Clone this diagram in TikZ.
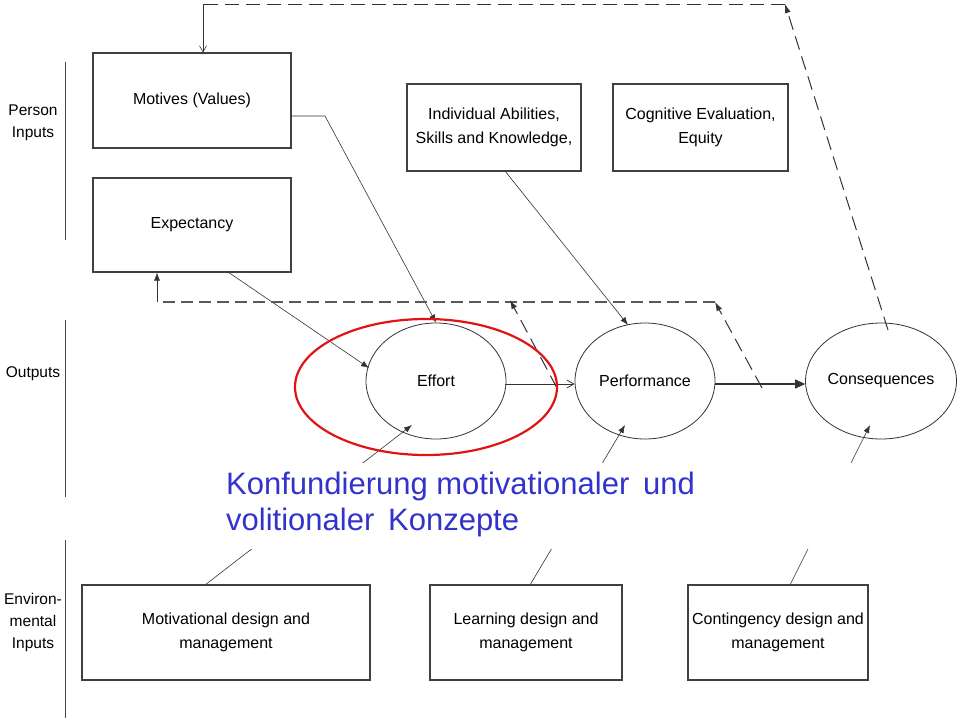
\documentclass[tikz,border=0pt]{standalone}
\usepackage{fontspec}
\setmainfont{Liberation Sans}
\usetikzlibrary{arrows.meta,shapes.geometric}
\definecolor{konf}{RGB}{50,50,205}
\begin{document}
\begin{tikzpicture}[x=1pt,y=-1pt,
  box/.style={draw=black!75,line width=1.2pt,inner sep=0pt,font=\fontsize{16}{24}\selectfont,align=center},
  oval/.style={draw=black!80,ellipse,line width=0.8pt,inner sep=0pt,font=\fontsize{16}{19}\selectfont},
  lab/.style={font=\fontsize{15.5}{22}\selectfont,align=center},
  conn/.style={draw=black!80,line width=0.6pt,-{Latex[length=8pt,width=6pt]}},
  dsh/.style={draw=black!80,line width=1pt,dash pattern=on 14pt off 7pt},
  dshg/.style={draw=black!65,line width=2pt,dash pattern=on 12pt off 6pt}]
\useasboundingbox[fill=white] (0,0) rectangle (960,720);
% side
\draw[black!70,line width=0.6pt] (65,62) -- (65,240) (65,320) -- (65,497) (65,540) -- (65,718);
\node[lab] (pi) at (33,123) {Person\\Inputs};
\node[lab] (ou) at (33,374) {Outputs};
\node[lab] (ei) at (33,622) {Environ-\\mental\\Inputs};
% boxes
\node[box,minimum width=198pt,minimum height=95pt] (mot) at (192,100.5) {Motives (Values)};
\node[box,minimum width=198pt,minimum height=94pt] (exp) at (192,225) {Expectancy};
\node[box,minimum width=174pt,minimum height=87pt] (abi) at (494,127.5) {Individual Abilities,\\Skills and Knowledge,};
\node[box,minimum width=175pt,minimum height=87pt] (cog) at (700.5,127.5) {Cognitive Evaluation,\\Equity};
\node[box,minimum width=288pt,minimum height=95pt] (mdm) at (226,632.5) {Motivational design and\\management};
\node[box,minimum width=192pt,minimum height=95pt] (ldm) at (526,632.5) {Learning design and\\management};
\node[box,minimum width=180pt,minimum height=95pt] (cdm) at (778,632.5) {Contingency design and\\management};
% ovals
\node[oval,minimum width=140pt,minimum height=116pt] (eff) at (436,381) {Effort};
\node[oval,minimum width=140pt,minimum height=116pt] (per) at (645,381) {Performance};
\node[oval,minimum width=124pt,minimum height=116pt] (con) at (881,381) {Consequences};
% connectors
\coordinate (m1) at (325,116);
\draw[conn] (mot.east|-m1) -- (m1) -- (eff.north);
\coordinate (e1) at (228,272);
\coordinate (e2) at (369,368);
\draw[conn] (e1) -- (e2);
\coordinate (a1) at (505,171);
\coordinate (pn) at (628,325);
\draw[conn] (a1) -- (pn);
\coordinate (ey) at (505,384);
\draw[draw=black!80,line width=0.8pt,-{Straight Barb[length=7pt,width=8pt]}] (ey) -- (per.west|-ey);
\coordinate (py) at (715,384);
\draw[draw=black!80,line width=1.2pt,-{Triangle[length=10pt,width=9pt]}] (py) -- (con.west|-py);
% dashed feedback
\coordinate (d0) at (163,302);
\coordinate (d1) at (715,302);
\coordinate (d2) at (510,300);
\draw[dshg] (d0) -- (d1);
\coordinate (x0) at (157,302);
\draw[conn] (x0) -- (exp.south-|x0);
\coordinate (s1) at (557,388);
\coordinate (s2) at (762,388);
\draw[dsh,-{Latex[length=9pt,width=6pt]}] (s1) -- (d2);
\draw[dsh,-{Latex[length=9pt,width=6pt]}] (s2) -- (d1);
\coordinate (t1) at (888,330);
\coordinate (t2) at (785,4);
\coordinate (t3) at (203,4);
\draw[dsh,-{Latex[length=9pt,width=6pt]}] (t1) -- (t2);
\draw[dsh] (t2) -- (t3);
\draw[draw=black!80,line width=0.6pt,-{Straight Barb[length=6pt,width=7pt]}] (t3) -- (mot.north-|t3);
% bottom inputs
\coordinate (b1) at (205,585); \coordinate (b1e) at (412,425);
\coordinate (b2) at (530,585); \coordinate (b2e) at (625,425);
\coordinate (b3) at (790,585); \coordinate (b3e) at (870,425);
\draw[conn] (b1) -- (b1e);
\draw[conn] (b2) -- (b2e);
\draw[conn] (b3) -- (b3e);
% red ellipse
\node[draw={rgb,255:red,225;green,20;blue,20},line width=2.2pt,ellipse,minimum width=262pt,minimum height=136pt] (red) at (426,387) {};
% blue text with white cover
\fill[white] (215,463) rectangle (860,549);
\node[anchor=north west,text=konf,align=left,font=\fontsize{31}{36}\selectfont,inner sep=0pt] (konf) at (226,472) {Konfundierung motivationaler\, und\\volitionaler\, Konzepte};
\end{tikzpicture}
\end{document}
